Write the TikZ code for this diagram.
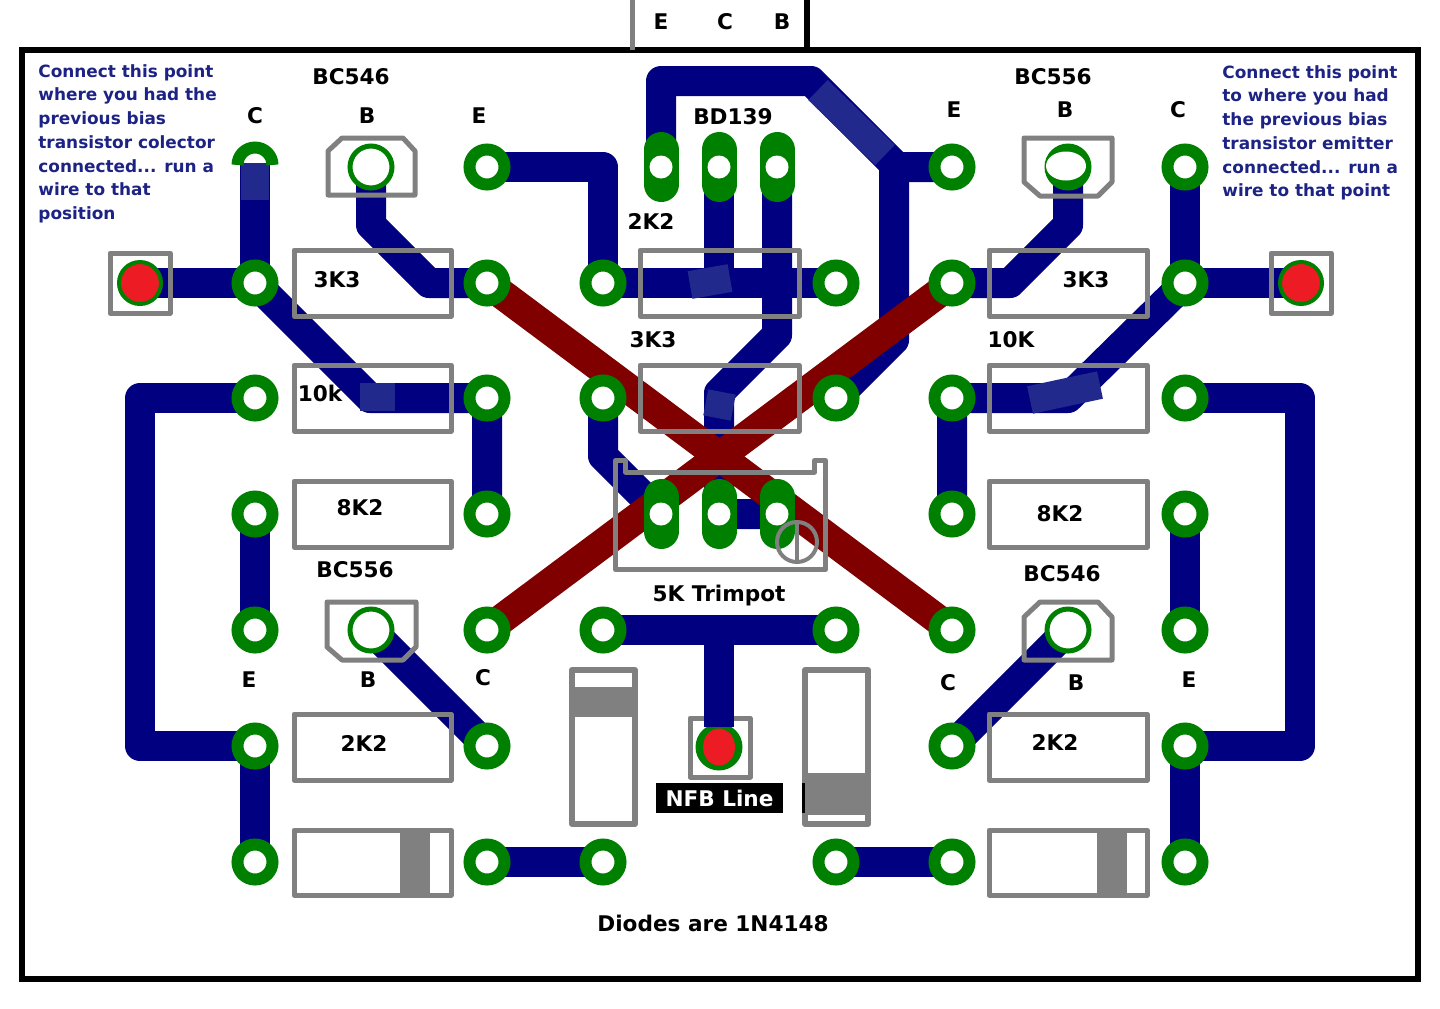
\documentclass[tikz,border=0pt]{standalone}
\usepackage{fontspec}
\usetikzlibrary{shapes.geometric}
\setmainfont{DejaVu Sans}
\definecolor{trackblue}{HTML}{000080}
\definecolor{patchblue}{HTML}{22298C}
\definecolor{trackred}{HTML}{800000}
\definecolor{padgreen}{HTML}{008000}
\definecolor{partgrey}{HTML}{808080}
\definecolor{testred}{HTML}{ED1C24}
\definecolor{noteblue}{HTML}{1C2384}
\tikzset{
  track/.style={draw=trackblue,line width=15pt,line join=round},
  patch/.style={draw=patchblue,line width=14pt},
  bridge/.style={draw=trackred,line width=15pt},
  pad/.style={circle,draw=padgreen,fill=white,line width=6pt,minimum size=17.5pt,inner sep=0pt,outer sep=0pt},
  thinpad/.style={circle,draw=padgreen,fill=white,line width=2.5pt,minimum size=21pt,inner sep=0pt,outer sep=0pt},
  testpad/.style={circle,draw=padgreen,fill=testred,line width=2pt,minimum size=21pt,inner sep=0pt,outer sep=0pt},
  hole/.style={circle,fill=white,minimum size=11.5pt,inner sep=0pt,outer sep=0pt},
  part/.style={draw=partgrey,line width=2.5pt,line join=round},
  band/.style={fill=partgrey},
  lbl/.style={font=\bfseries\fontsize{10.8}{12}\selectfont,text=black,inner sep=0pt},
  note/.style={font=\bfseries\fontsize{8.45}{11.85}\selectfont,text=noteblue,align=left,anchor=north west,inner sep=0pt}
}
\begin{document}
\begin{tikzpicture}[x=.5pt,y=-.5pt]
  \useasboundingbox (0,0) rectangle (1440,1008);
  % grid of the board
  \foreach \col/\px in {a/255,b/371,c/487,d/603,e/719,f/836,g/952,h/1068,i/1185}
    \foreach \row/\py in {1/167,2/283,3/398,4/514,5/630,6/746,7/862}
      \coordinate (\col\row) at (\px,\py);
  \coordinate (pinE) at (661,167);
  \coordinate (pinC) at (719,167);
  \coordinate (pinB) at (777,167);
  \coordinate (trimA) at (661,514);
  \coordinate (trimB) at (719,514);
  \coordinate (trimC) at (777,514);
  \coordinate (testL) at (140,283);
  \coordinate (testR) at (1301,283);
  \coordinate (testN) at (719,747);
  % frame and the leads going out
  \draw[black,line width=3pt] (22,50) rectangle (1418,979);
  \draw[partgrey,line width=2.5pt] (632,0) -- (632,50);
  \draw[black,line width=3pt] (807,0) -- (807,50);
  % blue tracks
  \begin{scope}[track]
    \draw (testL) -- (a2);
    \draw (255,163) -- (a2);
    \draw (b1) -- (371,225) -- (429,283) -- (c2);
    \draw (c1) -- (603,167) -- (d2);
    \draw (a2) -- (370,398) -- (c3) -- (c4);
    \draw (a3) -- (140,398) -- (140,746) -- (a6) -- (a7);
    \draw (a4) -- (a5);
    \draw (b5) -- (c6);
    \draw (c7) -- (d7);
    \draw (d2) -- (f2);
    \draw (pinC) -- (e2);
    \draw (pinB) -- (777,335) -- (719,393) -- (trimB) -- (trimC);
    \draw (pinE) -- (661,81) -- (811,81) -- (897,167) -- (g1);
    \draw (894,164) -- (894,340) -- (f3);
    \draw (d3) -- (603,456) -- (trimA);
    \draw (d5) -- (f5);
    \draw (f7) -- (g7);
    \draw (g6) -- (h5);
    \draw (i1) -- (i2) -- (testR);
    \draw (i2) -- (1068,398) -- (g3) -- (g4);
    \draw (g2) -- (1010,283) -- (1068,225) -- (h1);
    \draw (i3) -- (1300,398) -- (1300,746) -- (i6) -- (i7);
    \draw (i4) -- (i5);
  \end{scope}
  % repainted bits of the tracks
  \begin{scope}[patch]
    \draw (255,163) -- (255,200);
    \draw (818,90) -- (885,155);
    \draw (690,285) -- (730,278);
    \draw (360,397) -- (395,397);
    \draw (1030,400) -- (1100,385);
    \draw (717,418) -- (722,392);
  \end{scope}
  % red links
  \draw[bridge] (c2) -- (g5);
  \draw[bridge] (g2) -- (c5);
  % pads
  \draw[padgreen,line width=6pt] (237.5,165) arc[start angle=180,end angle=0,radius=8.75pt];
  \foreach \p in {c1,g1,i1,a2,c2,d2,f2,g2,i2,a3,c3,d3,f3,g3,i3,a4,c4,g4,i4,a5,c5,d5,f5,g5,i5,a6,c6,g6,i6,a7,c7,d7,f7,g7,i7}
    \node[pad] (pad\p) at (\p) {};
  \node[thinpad] (padb1) at (b1) {};
  \node[thinpad] (padb5) at (b5) {};
  \node[thinpad] (padh5) at (h5) {};
  \node[circle,fill=padgreen,minimum size=23.5pt,inner sep=0pt,outer sep=0pt] (padh1) at (h1) {};
  \node[ellipse,fill=white,minimum width=20pt,minimum height=14.5pt,inner sep=0pt] (holeh1) at (1066,166) {};
  \node[testpad] (padL) at (testL) {};
  \node[testpad] (padR) at (testR) {};
  \node[circle,fill=padgreen,minimum size=23.5pt,inner sep=0pt,outer sep=0pt] (padN) at (testN) {};
  \foreach \p in {pinE,pinC,pinB,trimA,trimB,trimC}{
    \draw[padgreen,line width=17.5pt,line cap=round] ([yshift=8.75pt]\p) -- ([yshift=-8.75pt]\p);
    \node[hole] (hole\p) at (\p) {};
  }
  % resistors and diodes
  \begin{scope}[part]
    \draw (294,250) rectangle (451,316);
    \draw (294,365) rectangle (451,431);
    \draw (294,481) rectangle (451,547);
    \draw (294,714) rectangle (451,780);
    \draw (294,830) rectangle (451,895);
    \draw (640,250) rectangle (799,316);
    \draw (640,365) rectangle (799,431);
    \draw (989,250) rectangle (1147,316);
    \draw (989,365) rectangle (1147,431);
    \draw (989,481) rectangle (1147,547);
    \draw (989,714) rectangle (1147,780);
    \draw (989,830) rectangle (1147,895);
    \draw (110,253) rectangle (170,313);
    \draw (1271,253) rectangle (1331,313);
    \draw (690,718) rectangle (750,777);
    \draw[line width=3pt] (572,670) rectangle (635,824);
    \draw[line width=3pt] (805,670) rectangle (868,824);
  \end{scope}
  \fill[band] (400,830) rectangle (430,895);
  \fill[band] (1097,830) rectangle (1127,895);
  \fill[band] (570,687) rectangle (637,717);
  \fill[band] (804,773) rectangle (869,815);
  \fill[black] (802,783) rectangle (805,813);
  % the line to the feedback point runs over its box
  \draw[track] (e5) -- (719,727);
  \node[ellipse,fill=testred,minimum width=16pt,minimum height=18.5pt,inner sep=0pt] (redN) at (testN) {};
  % transistor outlines
  \begin{scope}[part]
    \draw (342,138) -- (403,138) -- (415,151) -- (415,195) -- (328,195) -- (328,151) -- cycle;
    \draw (1024,138) -- (1112,138) -- (1112,182) -- (1098,196) -- (1040,196) -- (1024,182) -- cycle;
    \draw (327,602) -- (416,602) -- (416,647) -- (403,660) -- (342,660) -- (327,647) -- cycle;
    \draw (1040,602) -- (1098,602) -- (1112,617) -- (1112,660) -- (1024,660) -- (1024,617) -- cycle;
    % trimpot
    \draw (615.5,569.5) -- (615.5,460.5) -- (625.5,460.5) -- (625.5,472) -- (814.5,472) -- (814.5,460.5) -- (825.5,460.5) -- (825.5,569.5) -- cycle;
    \node[circle,draw=partgrey,line width=2pt,minimum size=20pt,inner sep=0pt,outer sep=0pt] (dial) at (797,542) {};
    \draw[line width=2pt] (dial.north) -- (dial.south);
  \end{scope}
  % labels
  \node[lbl] (ledE) at (661,22) {E};
  \node[lbl] (ledC) at (725,22) {C};
  \node[lbl] (ledB) at (782,22) {B};
  \node[lbl] (bcTL) at (351,77) {BC546};
  \node[lbl] (cTL) at (255,116) {C};
  \node[lbl] (bTL) at (367,116) {B};
  \node[lbl] (eTL) at (479,116) {E};
  \node[lbl] (bcTR) at (1053,77) {BC556};
  \node[lbl] (eTR) at (954,110) {E};
  \node[lbl] (bTR) at (1065,110) {B};
  \node[lbl] (cTR) at (1178,110) {C};
  \node[lbl] (bdT) at (733,117) {BD139};
  \node[lbl] (rA) at (651,221) {2K2};
  \node[lbl] (rB) at (337,280) {3K3};
  \node[lbl] (rC) at (1086,280) {3K3};
  \node[lbl] (rD) at (653,340) {3K3};
  \node[lbl] (rE) at (320,393) {10k};
  \node[lbl] (rF) at (1011,340) {10K};
  \node[lbl] (rG) at (360,508) {8K2};
  \node[lbl] (rH) at (1060,514) {8K2};
  \node[lbl] (rI) at (364,743) {2K2};
  \node[lbl] (rJ) at (1055,742) {2K2};
  \node[lbl] (bcBL) at (355,570) {BC556};
  \node[lbl] (bcBR) at (1062,574) {BC546};
  \node[lbl] (eBL) at (249,680) {E};
  \node[lbl] (bBL) at (368,680) {B};
  \node[lbl] (cBL) at (483,678) {C};
  \node[lbl] (cBR) at (948,683) {C};
  \node[lbl] (bBR) at (1076,683) {B};
  \node[lbl] (eBR) at (1189,680) {E};
  \node[lbl] (trimLbl) at (719,596) {5K Trimpot};
  \node[lbl,fill=black,text=white,minimum width=63.5pt,minimum height=15pt] (nfbLbl) at (719.5,798) {NFB Line};
  \node[lbl] (diodeLbl) at (713,923) {Diodes are 1N4148};
  \node[note] (noteL) at (38,64) {Connect this point\\where you had the\\previous bias\\transistor colector\\connected... run a\\wire to that\\position};
  \node[note] (noteR) at (1222,65) {Connect this point\\to where you had\\the previous bias\\transistor emitter\\connected... run a\\wire to that point};
\end{tikzpicture}
\end{document}
